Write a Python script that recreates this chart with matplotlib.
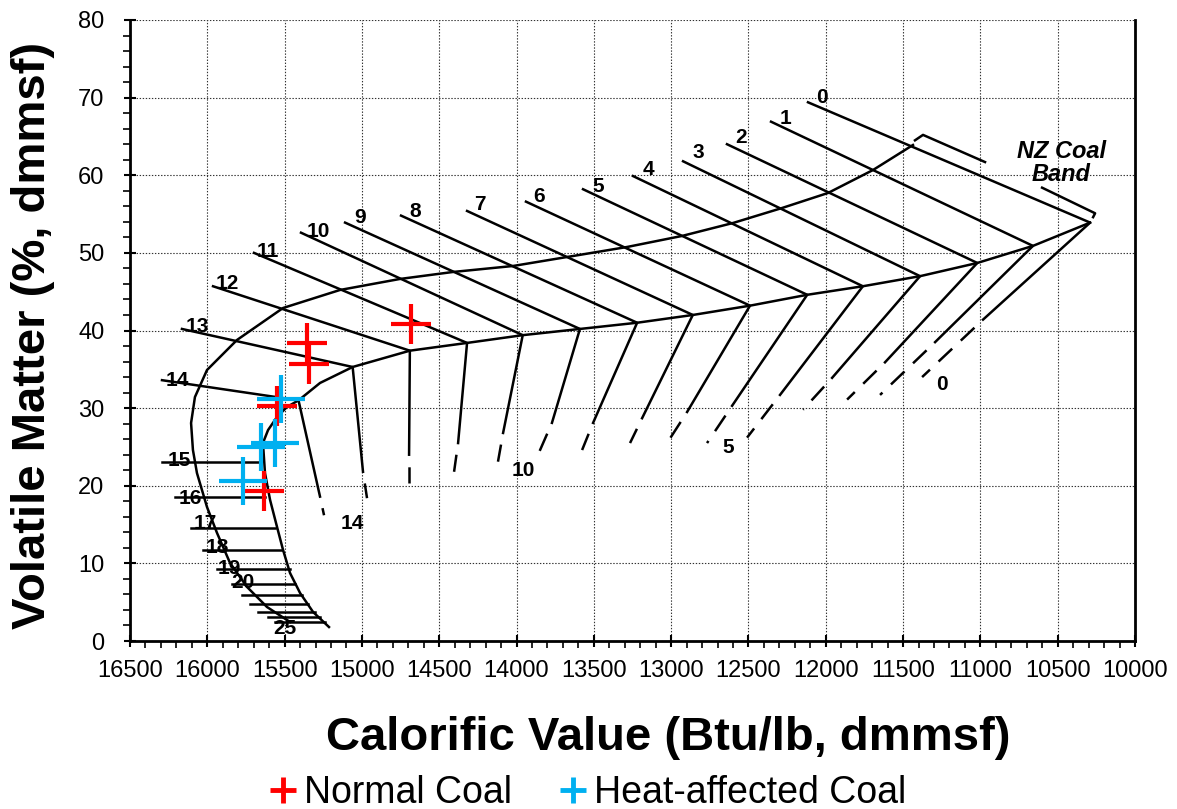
import matplotlib
matplotlib.use("Agg")
import matplotlib.pyplot as plt
from matplotlib.lines import Line2D
from matplotlib.ticker import MultipleLocator
import numpy as np

plt.rcParams['font.family'] = ['Liberation Sans', 'DejaVu Sans']
plt.rcParams['lines.scale_dashes'] = False

# rank lines Sr 0..14: start of upper limb, knee on the band base,
# end of solid lower limb, end of dashed lower limb
sr_top = list(range(15))
top_x = [12115, 12354, 12639, 12923, 13247, 13570, 13939, 14320, 14747, 15109, 15394, 15698, 15963, 16164, 16293]
top_y = [69.4, 66.9, 64.0, 61.8, 59.9, 58.2, 56.6, 55.4, 54.8, 53.9, 52.6, 50.0, 45.7, 40.2, 33.6]
knee_x = [10290, 10660, 11020, 11390, 11760, 12120, 12490, 12860, 13220, 13590, 13960, 14320, 14690, 15060, 15410]
knee_y = [53.9, 50.9, 48.7, 47.0, 45.7, 44.6, 43.2, 42.0, 41.0, 40.2, 39.4, 38.4, 37.4, 35.3, 31.0]
solid_x = [10983, 11293, 11617, 11959, 12296, 12606, 12897, 13188, 13505, 13771, 14087, 14378, 14695, 14993, 15271]
solid_y = [41.4, 38.5, 35.9, 33.9, 31.7, 30.3, 29.5, 28.7, 28.1, 28.1, 26.8, 25.5, 24.0, 21.8, 18.6]
dash_x = [11377, 11649, 11862, 12147, 12509, 12768, 13033, 13266, 13576, 13861, 14120, 14404, 14695, 14967, 15245]
dash_y = [34.0, 31.7, 31.1, 29.8, 26.2, 25.5, 25.3, 25.5, 24.6, 24.0, 23.1, 21.8, 20.4, 18.4, 16.2]
lab_x = [12024, 12263, 12548, 12826, 13150, 13473, 13855, 14236, 14657, 15012, 15284, 15607, 15873, 16067, 16196]
lab_y = [70.0, 67.3, 64.8, 62.9, 60.7, 58.5, 57.2, 56.2, 55.3, 54.5, 52.7, 50.2, 46.0, 40.5, 33.6]

# labels at the foot of the dashed limbs
foot_lab = ['0', '5', '10', '14']
foot_x = [11248, 12632, 13958, 15064]
foot_y = [33.0, 24.9, 22.0, 15.2]

# high-rank ticks Sr 15..25
sr_low = list(range(15, 26))
hatch_y = [23.06, 18.55, 14.56, 11.72, 9.28, 7.34, 5.93, 4.77, 3.74, 3.09, 2.45]
hatch_x0 = [16293, 16209, 16105, 16028, 15937, 15840, 15776, 15724, 15672, 15607, 15562]
hatch_x1 = [15672, 15627, 15562, 15517, 15465, 15433, 15387, 15349, 15303, 15271, 15239]
low_lab = ['15', '16', '17', '18', '19', '20', '25']
low_lab_x = [16183, 16112, 16015, 15937, 15860, 15769, 15497]
low_lab_y = [23.2, 18.4, 15.2, 12.1, 9.4, 7.5, 1.55]

# outer boundary of the NZ coal band (bottom to top)
outer_x = [15465, 15614, 15743, 15853, 15937, 16002, 16067, 16093, 16105, 16080, 16002, 15808, 15510,
           15142, 14754, 14411, 14023, 13673, 13285, 12930, 12600, 12283, 11985, 11694, 11436]
outer_y = [2.45, 4.38, 6.96, 10.05, 13.91, 17.26, 21.64, 24.61, 28.08, 31.43, 34.91, 38.78, 42.90,
           45.22, 46.64, 47.54, 48.31, 49.47, 50.76, 52.18, 53.85, 55.78, 57.72, 60.68, 63.90]

# inner boundary from the bottom up to the Sr 13 knee
inner_x = [15213, 15316, 15400, 15465, 15510, 15549, 15594, 15627, 15640, 15607, 15549, 15485, 15410, 15271]
inner_y = [1.80, 3.74, 6.18, 8.76, 11.72, 14.69, 18.17, 21.64, 25.51, 27.18, 28.86, 30.15, 31.0, 33.24]

# band brackets
brk1_x = [11423, 11371, 10970]
brk1_y = [64.5, 65.2, 61.7]
brk2_x = [10601, 10258, 10271]
brk2_y = [58.4, 55.1, 54.6]

# samples
normal_cv = [14683, 15353, 15340, 15551, 15633]
normal_vm = [40.84, 38.35, 35.65, 30.28, 19.37]
heat_cv = [15521, 15562, 15653, 15771]
heat_vm = [31.18, 25.55, 25.03, 20.65]

red = '#FF0000'
blue = '#00B0F0'
lw = 1.8
lab_fs = 15

fig = plt.figure(figsize=(11.77, 8.09), dpi=100)
ax = fig.add_axes([130/1177, 1-641/809, 1005/1177, 621/809])

# rank lines
for i in sr_top:
    ax.plot([top_x[i], knee_x[i], solid_x[i]], [top_y[i], knee_y[i], solid_y[i]], color='k', lw=lw, zorder=3)
    ax.plot([solid_x[i], dash_x[i]], [solid_y[i], dash_y[i]], color='k', lw=lw,
            linestyle=(13.5, (13.5, 8.5)), zorder=3)
    ax.text(lab_x[i], lab_y[i], str(i), fontsize=lab_fs, fontweight='bold', ha='center', va='center', zorder=4)

for s, xx, yy in zip(foot_lab, foot_x, foot_y):
    ax.text(xx, yy, s, fontsize=lab_fs, fontweight='bold', ha='center', va='center', zorder=4)

for y0, a, b in zip(hatch_y, hatch_x0, hatch_x1):
    ax.plot([a, b], [y0, y0], color='k', lw=lw, zorder=3)
for s, xx, yy in zip(low_lab, low_lab_x, low_lab_y):
    ax.text(xx, yy, s, fontsize=lab_fs, fontweight='bold', ha='center', va='center', zorder=4)

# band outlines
ax.plot(outer_x, outer_y, color='k', lw=lw, zorder=3)
base_x = inner_x + knee_x[13::-1]
base_y = inner_y + knee_y[13::-1]
ax.plot(base_x, base_y, color='k', lw=lw, zorder=3)
ax.plot(brk1_x, brk1_y, color='k', lw=lw, zorder=3)
ax.plot(brk2_x, brk2_y, color='k', lw=lw, zorder=3)
ax.text(10478, 61.6, 'NZ Coal\nBand', fontsize=17, fontweight='bold', style='italic',
        ha='center', va='center', linespacing=1.0, zorder=4)

# samples
ax.plot(normal_cv, normal_vm, linestyle='none', marker='+', ms=29, mew=3, color=red, zorder=5)
ax.plot(heat_cv, heat_vm, linestyle='none', marker='+', ms=34, mew=3, color=blue, zorder=6)

ax.set_xlim(16500, 10000)
ax.set_ylim(0, 80)
ax.xaxis.set_major_locator(MultipleLocator(500))
ax.xaxis.set_minor_locator(MultipleLocator(100))
ax.yaxis.set_major_locator(MultipleLocator(10))
ax.yaxis.set_minor_locator(MultipleLocator(2))
ax.tick_params(which='major', direction='inout', length=9, width=1.5, labelsize=17)
ax.tick_params(axis='x', which='major', pad=9)
ax.tick_params(axis='y', which='major', pad=14)
ax.tick_params(which='minor', direction='out', length=5, width=1.2)
ax.grid(True, which='major', color='#333333', lw=0.8, linestyle=(0, (1, 1.2)))
for side in ['left', 'bottom', 'right']:
    ax.spines[side].set_linewidth(2)
ax.spines['top'].set_visible(False)

fig.text(668/1177, 1-738/809, 'Calorific Value (Btu/lb, dmmsf)', fontsize=34, fontweight='bold',
         ha='center', va='center')
fig.text(33/1177, 1-335/809, 'Volatile Matter (%, dmmsf)', fontsize=34, fontweight='bold',
         rotation=90, ha='center', va='center')

handles = [Line2D([], [], linestyle='none', marker='+', ms=19, mew=3.5, color=red),
           Line2D([], [], linestyle='none', marker='+', ms=19, mew=3.5, color=blue)]
fig.legend(handles, ['Normal Coal', 'Heat-affected Coal'], loc='center', bbox_to_anchor=(588/1177, 1-793/809),
           ncol=2, frameon=False, fontsize=27, handlelength=0.7, handletextpad=0.2, columnspacing=1.3,
           borderpad=0.1)

fig.savefig('out.png', dpi=100)
